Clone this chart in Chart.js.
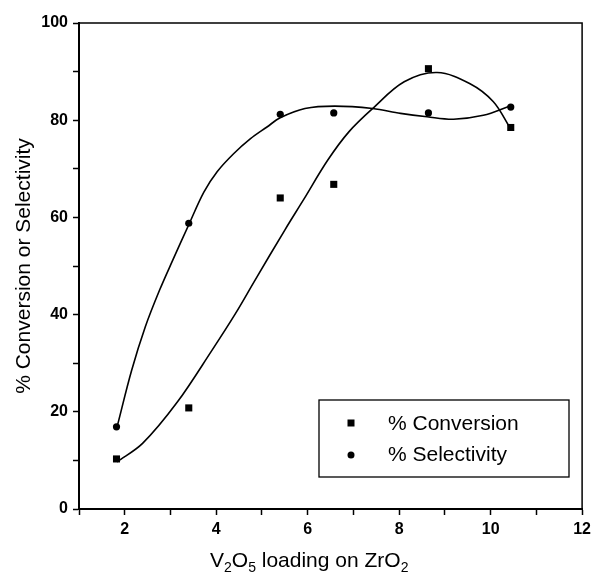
<!DOCTYPE html>
<html>
<head>
<meta charset="utf-8">
<script src="https://cdn.jsdelivr.net/npm/chart.js@4.4.1/dist/chart.umd.min.js"></script>
<style>
  body { margin: 0; background: #fff; }
</style>
</head>
<body>
<canvas id="myChart" width="596" height="572"></canvas>
<script>
// measured points
let loading = [1.82, 3.40, 5.40, 6.57, 8.64, 10.44];
let conversion = [10.3, 20.8, 64.0, 66.8, 90.6, 78.5];
let selectivity = [16.9, 58.8, 81.2, 81.5, 81.5, 82.7];

// fitted curves
let convFitX = [1.83, 2.39, 3.15, 3.91, 4.42, 4.85, 5.50, 5.90, 6.44, 6.90, 7.42, 8.11, 8.83, 9.55, 10.06, 10.42];
let convFitY = [9.7, 13.5, 22.0, 32.7, 40.2, 47.1, 57.4, 63.5, 71.8, 77.6, 82.4, 87.9, 89.8, 87.5, 83.8, 78.5];
let selFitX = [1.83, 2.15, 2.45, 2.76, 3.05, 3.41, 3.73, 4.02, 4.38, 4.75, 5.11, 5.40, 5.94, 6.59, 7.42, 8.03, 8.61, 9.19, 9.84, 10.42];
let selFitY = [16.8, 28.5, 37.5, 45.0, 51.2, 58.7, 65.2, 69.4, 73.1, 76.2, 78.6, 80.5, 82.4, 82.9, 82.4, 81.4, 80.7, 80.2, 81.0, 82.9];

let legendLabels = ['% Conversion', '% Selectivity'];
let xTitleParts = [['V', 0], ['2', 1], ['O', 0], ['5', 1], [' loading on ZrO', 0], ['2', 1]];
let yTitle = '% Conversion or Selectivity';

const FONT = "'Liberation Sans', Arial, sans-serif";

function pts(xs, ys) {
    return xs.map((x, i) => ({ x: x, y: ys[i] }));
}

// frame, legend box and x title with subscripts
const extras = {
    id: 'extras',
    afterDatasetsDraw(chart) {
        const ctx = chart.ctx;
        const a = chart.chartArea;
        ctx.save();
        ctx.strokeStyle = '#000';
        ctx.lineWidth = 1.5;
        ctx.strokeRect(a.left, a.top, a.right - a.left, a.bottom - a.top);

        // legend
        ctx.lineWidth = 1.3;
        ctx.strokeRect(319, 400, 250, 77);
        ctx.fillStyle = '#000';
        ctx.fillRect(347.5, 419.5, 7, 7);
        ctx.beginPath();
        ctx.arc(351, 455, 3.5, 0, Math.PI * 2);
        ctx.fill();
        ctx.font = '21px ' + FONT;
        ctx.textBaseline = 'middle';
        ctx.textAlign = 'left';
        ctx.fillText(legendLabels[0], 388, 424);
        ctx.fillText(legendLabels[1], 388, 455);

        // x title
        let x = 210;
        const base = 567;
        ctx.textBaseline = 'alphabetic';
        xTitleParts.forEach(p => {
            ctx.font = (p[1] ? '14px ' : '21px ') + FONT;
            ctx.fillText(p[0], x, p[1] ? base + 5 : base);
            x += ctx.measureText(p[0]).width;
        });
        ctx.restore();
    }
};

const ctx = document.getElementById('myChart').getContext('2d');
const myChart = new Chart(ctx, {
    type: 'scatter',
    data: {
        datasets: [
            {
                label: 'conv fit',
                type: 'line',
                data: pts(convFitX, convFitY),
                borderColor: '#000',
                borderWidth: 1.6,
                pointRadius: 0,
                tension: 0.35,
                fill: false,
            },
            {
                label: 'sel fit',
                type: 'line',
                data: pts(selFitX, selFitY),
                borderColor: '#000',
                borderWidth: 1.6,
                pointRadius: 0,
                tension: 0.35,
                fill: false,
            },
            {
                label: legendLabels[0],
                data: pts(loading, conversion),
                pointStyle: 'rect',
                pointRadius: 5,
                backgroundColor: '#000',
                borderColor: '#000',
                borderWidth: 0,
            },
            {
                label: legendLabels[1],
                data: pts(loading, selectivity),
                pointStyle: 'circle',
                pointRadius: 3.6,
                backgroundColor: '#000',
                borderColor: '#000',
                borderWidth: 0,
            },
        ]
    },
    options: {
        responsive: false,
        animation: false,
        layout: { padding: { top: 23, right: 10, left: 0, bottom: 0 } },
        plugins: {
            legend: { display: false },
            tooltip: { enabled: false }
        },
        scales: {
            x: {
                type: 'linear',
                min: 1,
                max: 12,
                afterFit: s => { s.height = 63; },
                border: { display: true, color: '#000', width: 2 },
                grid: { drawOnChartArea: false, drawTicks: true, tickLength: 6, tickColor: '#000', tickWidth: 1.5 },
                ticks: {
                    stepSize: 1,
                    autoSkip: false,
                    maxRotation: 0,
                    padding: 5,
                    color: '#000',
                    font: { family: FONT, size: 16, weight: 'bold' },
                    callback: v => (v % 2 === 0 ? v : '')
                }
            },
            y: {
                min: 0,
                max: 100,
                afterFit: s => { s.width = 79; },
                border: { display: true, color: '#000', width: 2 },
                grid: { drawOnChartArea: false, drawTicks: true, tickLength: 6, tickColor: '#000', tickWidth: 1.5 },
                title: {
                    display: true,
                    text: yTitle,
                    color: '#000',
                    font: { family: FONT, size: 21 },
                    padding: { top: 12, bottom: 0 }
                },
                ticks: {
                    stepSize: 10,
                    autoSkip: false,
                    padding: 5,
                    color: '#000',
                    font: { family: FONT, size: 16, weight: 'bold' },
                    callback: v => (v % 20 === 0 ? v : '')
                }
            }
        }
    },
    plugins: [extras]
});
</script>
</body>
</html>
